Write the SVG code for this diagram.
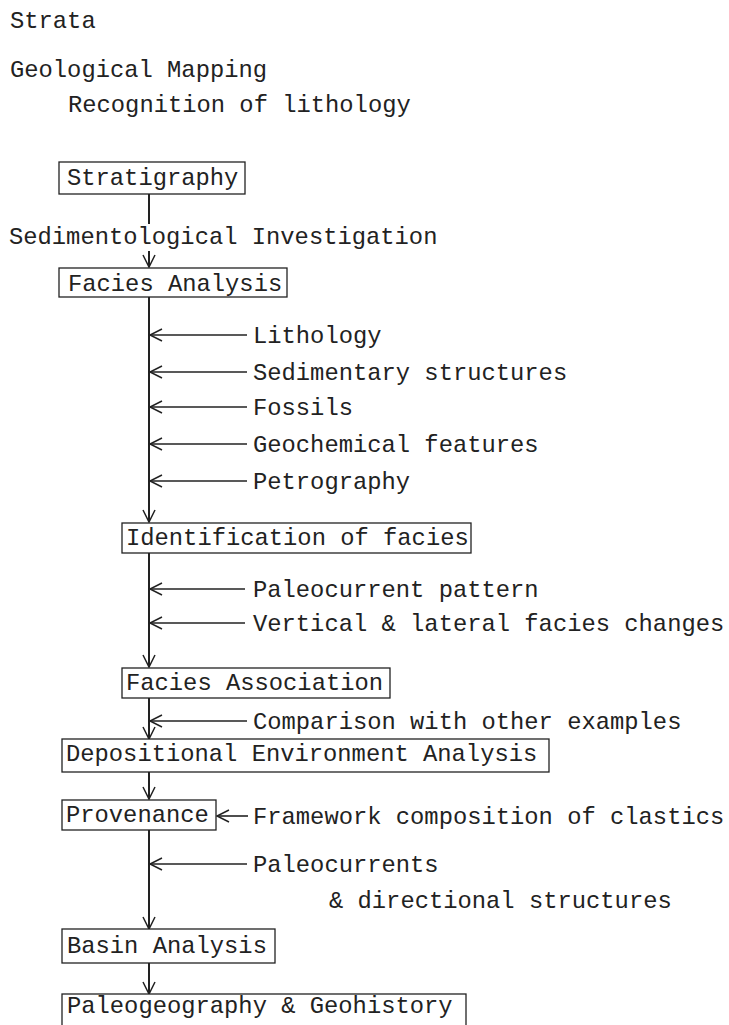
<svg xmlns="http://www.w3.org/2000/svg" width="729" height="1025" viewBox="0 0 729 1025">
<defs>
<style>
text{font-family:"Liberation Mono","Courier New",monospace;font-size:23.8px;fill:#222}
.box{fill:#fff;stroke:#222;stroke-width:1.3}
.c{stroke:#222;stroke-width:1.6;fill:none}
.m{stroke:#222;stroke-width:2;fill:none}
</style>
<marker id="ah" markerUnits="userSpaceOnUse" markerWidth="16" markerHeight="16" refX="13" refY="7" orient="auto" viewBox="0 0 16 14">
<path d="M1,1 L13,7 L1,13" fill="none" stroke="#222" stroke-width="1.5"/>
</marker>
</defs>
<rect width="729" height="1025" fill="#fff"/>
<g id="headings">
<text x="10" y="28">Strata</text>
<text x="10" y="77">Geological Mapping</text>
<text x="68" y="112">Recognition of lithology</text>
<text x="9" y="244">Sedimentological Investigation</text>
</g>
<g id="connectors">
<line class="m" x1="149" y1="194" x2="149" y2="224"/>
<line class="m" x1="149" y1="251" x2="149" y2="267" marker-end="url(#ah)"/>
<line class="m" x1="149" y1="297" x2="149" y2="522" marker-end="url(#ah)"/>
<line class="c" x1="247" y1="335" x2="150" y2="335" marker-end="url(#ah)"/>
<line class="c" x1="247" y1="372" x2="150" y2="372" marker-end="url(#ah)"/>
<line class="c" x1="247" y1="407" x2="150" y2="407" marker-end="url(#ah)"/>
<line class="c" x1="247" y1="444" x2="150" y2="444" marker-end="url(#ah)"/>
<line class="c" x1="247" y1="481" x2="150" y2="481" marker-end="url(#ah)"/>
<line class="m" x1="149" y1="553" x2="149" y2="667" marker-end="url(#ah)"/>
<line class="c" x1="245" y1="589" x2="150" y2="589" marker-end="url(#ah)"/>
<line class="c" x1="245" y1="623" x2="150" y2="623" marker-end="url(#ah)"/>
<line class="m" x1="149" y1="698" x2="149" y2="739" marker-end="url(#ah)"/>
<line class="c" x1="247" y1="721" x2="150" y2="721" marker-end="url(#ah)"/>
<line class="m" x1="149" y1="772" x2="149" y2="799" marker-end="url(#ah)"/>
<line class="c" x1="248" y1="816" x2="217" y2="816" marker-end="url(#ah)"/>
<line class="m" x1="149" y1="830" x2="149" y2="929" marker-end="url(#ah)"/>
<line class="c" x1="247" y1="864" x2="150" y2="864" marker-end="url(#ah)"/>
<line class="m" x1="149" y1="963" x2="149" y2="994" marker-end="url(#ah)"/>
</g>
<g id="labels">
<text x="253" y="343">Lithology</text>
<text x="253" y="380">Sedimentary structures</text>
<text x="253" y="415">Fossils</text>
<text x="253" y="452">Geochemical features</text>
<text x="253" y="489">Petrography</text>
<text x="253" y="597">Paleocurrent pattern</text>
<text x="253" y="631">Vertical &amp; lateral facies changes</text>
<text x="253" y="729">Comparison with other examples</text>
<text x="253" y="824">Framework composition of clastics</text>
<text x="253" y="872">Paleocurrents</text>
<text x="329" y="908">&amp; directional structures</text>
</g>
<g id="n-stratigraphy">
<rect class="box" x="59" y="162" width="186" height="32"/>
<text x="67" y="185">Stratigraphy</text>
</g>
<g id="n-facies-analysis">
<rect class="box" x="59" y="268" width="228" height="29"/>
<text x="68" y="291">Facies Analysis</text>
</g>
<g id="n-identification">
<rect class="box" x="122" y="523" width="349" height="30"/>
<text x="126" y="545">Identification of facies</text>
</g>
<g id="n-facies-association">
<rect class="box" x="122" y="668" width="268" height="30"/>
<text x="126" y="690">Facies Association</text>
</g>
<g id="n-depositional">
<rect class="box" x="62" y="739" width="487" height="33"/>
<text x="66" y="761">Depositional Environment Analysis</text>
</g>
<g id="n-provenance">
<rect class="box" x="62" y="800" width="154" height="30"/>
<text x="66" y="822">Provenance</text>
</g>
<g id="n-basin">
<rect class="box" x="62" y="929" width="213" height="34"/>
<text x="67" y="953">Basin Analysis</text>
</g>
<g id="n-paleogeography">
<rect class="box" x="62" y="994" width="404" height="40"/>
<text x="67" y="1013">Paleogeography &amp; Geohistory</text>
</g>
</svg>
